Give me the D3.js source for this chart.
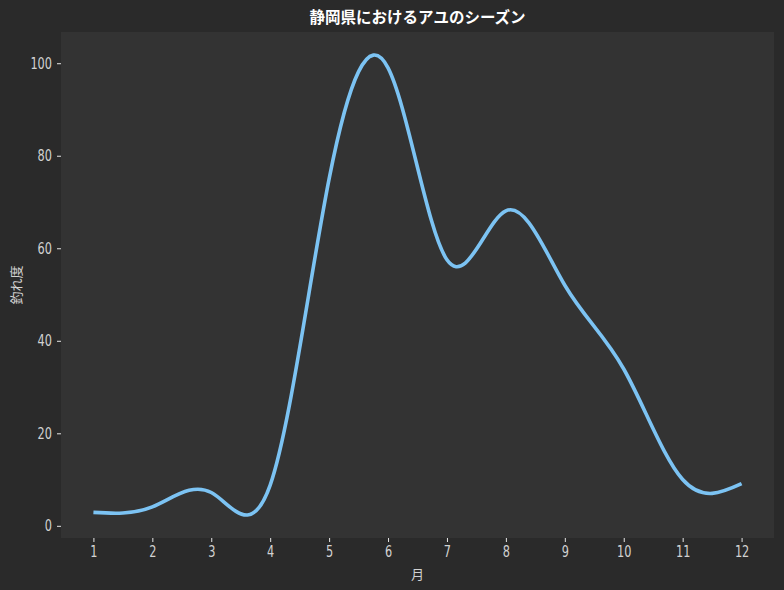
<!DOCTYPE html>
<html>
<head>
<meta charset="utf-8">
<script src="https://cdn.jsdelivr.net/npm/d3@7"></script>
<style>
  html, body { margin: 0; padding: 0; background: #2a2a2a; }
  svg { display: block; }
</style>
</head>
<body>
<svg id="chart" width="784" height="590"></svg>
<script>
// Monthly "catchability" of ayu (sweetfish) in Shizuoka
const months = [1, 2, 3, 4, 5, 6, 7, 8, 9, 10, 11, 12];
const score = [2.9, 4.1, 7.2, 8.8, 75, 99, 57.5, 68.1, 52, 33.9, 10, 9.1];
const yTicks = [0, 20, 40, 60, 80, 100];
const titleText = "静岡県におけるアユのシーズン";
const xLabel = "月";
const yLabel = "釣れ度";

// Natural cubic spline evaluator (same curve d3.curveNatural draws on evenly spaced x),
// used to find the curve's true extremes for the y-domain padding.
function naturalSpline(xs, ys) {
  const n = xs.length;
  const h = d3.range(n - 1).map(i => xs[i + 1] - xs[i]);
  const A = d3.range(n).map(() => new Array(n).fill(0));
  const b = new Array(n).fill(0);
  A[0][0] = 1;
  A[n - 1][n - 1] = 1;
  for (let i = 1; i < n - 1; i++) {
    A[i][i - 1] = h[i - 1];
    A[i][i] = 2 * (h[i - 1] + h[i]);
    A[i][i + 1] = h[i];
    b[i] = 6 * ((ys[i + 1] - ys[i]) / h[i] - (ys[i] - ys[i - 1]) / h[i - 1]);
  }
  for (let c = 0; c < n; c++) {
    for (let r = c + 1; r < n; r++) {
      const f = A[r][c] / A[c][c];
      if (f === 0) continue;
      for (let k = c; k < n; k++) A[r][k] -= f * A[c][k];
      b[r] -= f * b[c];
    }
  }
  const M = new Array(n).fill(0);
  for (let r = n - 1; r >= 0; r--) {
    let s = b[r];
    for (let k = r + 1; k < n; k++) s -= A[r][k] * M[k];
    M[r] = s / A[r][r];
  }
  return x => {
    const i = Math.min(n - 2, Math.max(0, d3.bisectRight(xs, x) - 1));
    const hi = h[i], a = xs[i + 1] - x, t = x - xs[i];
    return M[i] * a * a * a / (6 * hi) + M[i + 1] * t * t * t / (6 * hi)
      + (ys[i] / hi - M[i] * hi / 6) * a + (ys[i + 1] / hi - M[i + 1] * hi / 6) * t;
  };
}

const spline = naturalSpline(months, score);
const curveExtent = d3.extent(d3.range(1, 12.0001, 0.01), spline);

const W = 784, H = 590;
const plot = { left: 61, right: 774, top: 32, bottom: 538 };

// 5% margins on both axes
const yPad = (curveExtent[1] - curveExtent[0]) * 0.05;
const xPad = (d3.max(months) - d3.min(months)) * 0.05;

const x = d3.scaleLinear()
  .domain([d3.min(months) - xPad, d3.max(months) + xPad])
  .range([plot.left, plot.right]);
const y = d3.scaleLinear()
  .domain([curveExtent[0] - yPad, curveExtent[1] + yPad])
  .range([plot.bottom, plot.top]);

const svg = d3.select("#chart");
svg.append("rect").attr("width", W).attr("height", H).attr("fill", "#2a2a2a");
svg.append("rect")
  .attr("x", plot.left).attr("y", plot.top)
  .attr("width", plot.right - plot.left).attr("height", plot.bottom - plot.top)
  .attr("fill", "#333333");

const tickFont = "'DejaVu Sans', sans-serif";

const xAxis = svg.append("g")
  .attr("transform", `translate(0,${plot.bottom})`)
  .call(d3.axisBottom(x).tickValues(months).tickFormat(d3.format("d")).tickSize(4).tickPadding(4));
const yAxis = svg.append("g")
  .attr("transform", `translate(${plot.left},0)`)
  .call(d3.axisLeft(y).tickValues(yTicks).tickFormat(d3.format("d")).tickSize(4).tickPadding(5));

[xAxis, yAxis].forEach(g => {
  g.select(".domain").remove();
  g.selectAll(".tick line").attr("stroke", "#e6e6e6").attr("stroke-width", 1);
  g.selectAll(".tick text")
    .attr("fill", "#d2d2d2")
    .style("font-family", tickFont)
    .style("font-size", "15px")
    .attr("lengthAdjust", "spacingAndGlyphs")
    .attr("textLength", function () { return this.textContent.length * 7.2; });
});

svg.append("path")
  .datum(months.map((m, i) => [m, score[i]]))
  .attr("fill", "none")
  .attr("stroke", "#7cc3f3")
  .attr("stroke-width", 3.6)
  .attr("stroke-linejoin", "round")
  .attr("d", d3.line().x(d => x(d[0])).y(d => y(d[1])).curve(d3.curveNatural));

svg.append("text")
  .attr("x", (plot.left + plot.right) / 2).attr("y", 23)
  .attr("text-anchor", "middle")
  .attr("fill", "#ffffff")
  .style("font-family", "'Noto Sans CJK JP', sans-serif")
  .style("font-weight", "bold")
  .style("font-size", "15.5px")
  .text(titleText);

svg.append("text")
  .attr("x", (plot.left + plot.right) / 2).attr("y", 579)
  .attr("text-anchor", "middle")
  .attr("fill", "#d2d2d2")
  .style("font-family", "'Noto Sans CJK JP', sans-serif")
  .style("font-size", "13px")
  .text(xLabel);

svg.append("text")
  .attr("transform", `translate(21,${(plot.top + plot.bottom) / 2}) rotate(-90)`)
  .attr("text-anchor", "middle")
  .attr("fill", "#d2d2d2")
  .style("font-family", "'Noto Sans CJK JP', sans-serif")
  .style("font-size", "13px")
  .text(yLabel);
</script>
</body>
</html>
